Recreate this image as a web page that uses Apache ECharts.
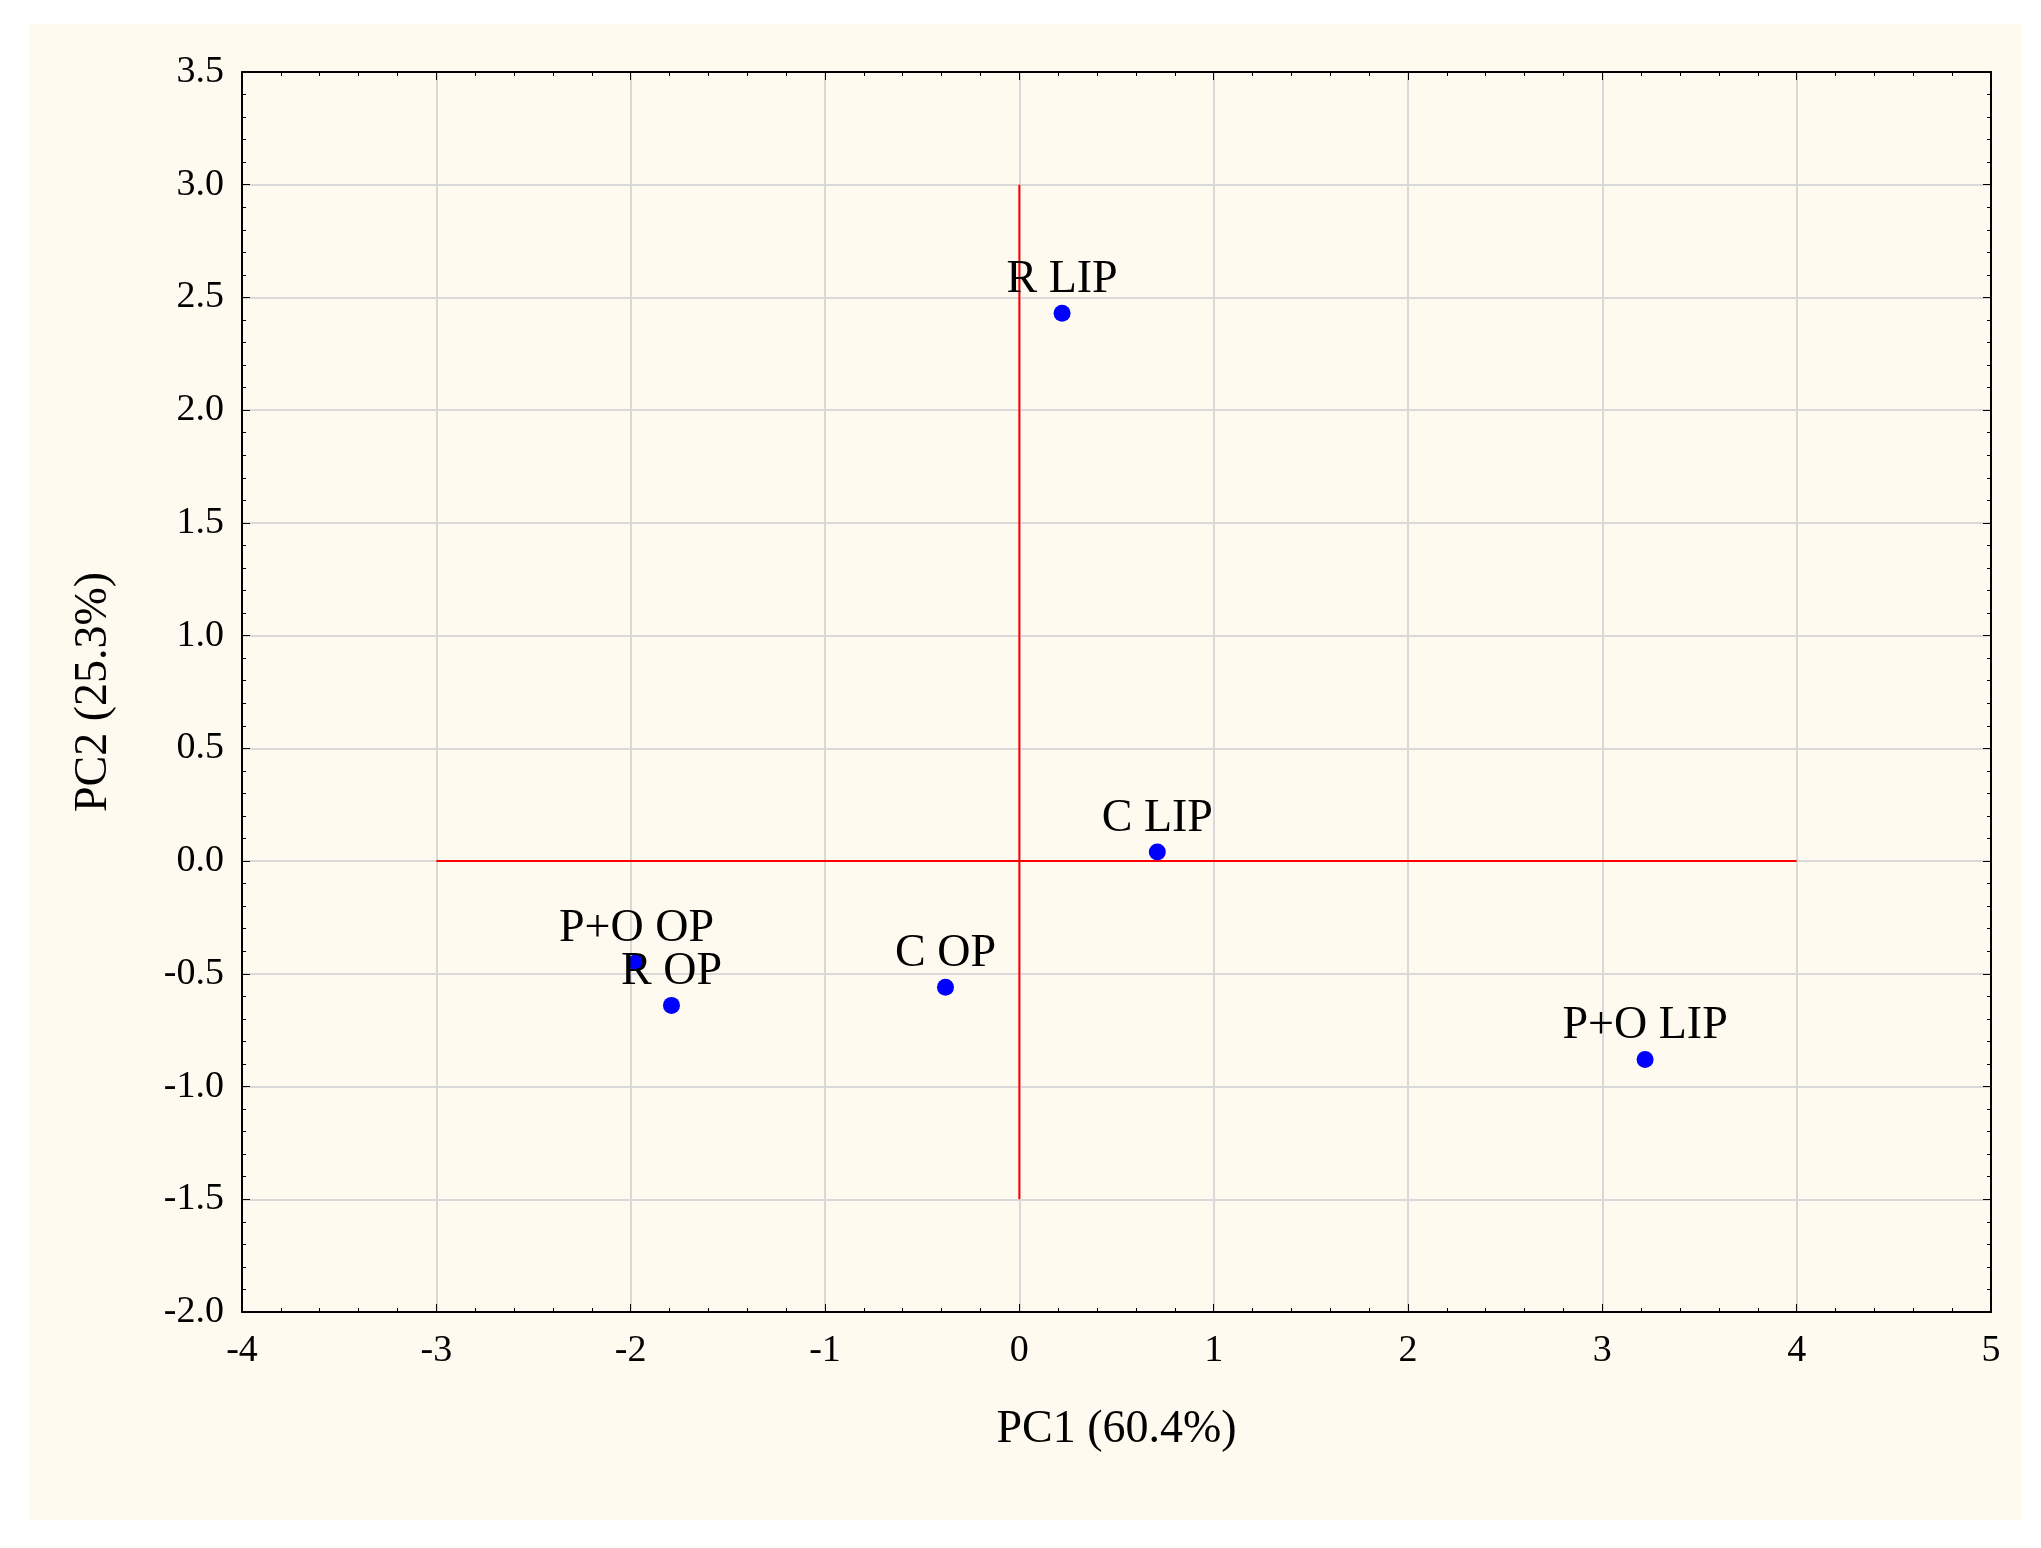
<!DOCTYPE html><html><head><meta charset="utf-8"><script src="https://cdn.jsdelivr.net/npm/echarts@6/dist/echarts.min.js"></script>
<style>html,body{margin:0;background:#fff}#c{position:absolute;left:29px;top:24px;width:1992px;height:1496px;background:#fffaf0}</style></head><body><div id="c"></div><script>
const names=['R LIP','C LIP','P+O OP','R OP','C OP','P+O LIP'];
const pc1=[0.22,0.71,-1.97,-1.79,-0.38,3.22];
const pc2=[2.43,0.04,-0.45,-0.64,-0.56,-0.88];
const xTicks=[-4,-3,-2,-1,0,1,2,3,4,5];
const yTicks=[-2.0,-1.5,-1.0,-0.5,0.0,0.5,1.0,1.5,2.0,2.5,3.0,3.5];
const font='"Liberation Serif", serif';
const ch=echarts.init(document.getElementById('c'));
const ax={axisLine:{show:true,onZero:false,lineStyle:{color:'#000',width:2}},axisTick:{show:true,inside:true,length:8,lineStyle:{color:'#000'}},minorTick:{show:true,splitNumber:5,length:4,lineStyle:{color:'#000'}},splitLine:{show:true,lineStyle:{color:'#d9d9d9',width:2}},axisLabel:{color:'#000',fontFamily:font,fontSize:38},nameTextStyle:{color:'#000',fontFamily:font,fontSize:46}};
ch.setOption({animation:false,grid:{left:213,right:30,top:48,bottom:208},
xAxis:[Object.assign({type:'value',min:-4,max:5,interval:1,name:'PC1 (60.4%)',nameLocation:'middle',nameGap:95,axisLabel:Object.assign({},ax.axisLabel,{margin:20})},{axisLine:ax.axisLine,axisTick:ax.axisTick,minorTick:ax.minorTick,splitLine:ax.splitLine,nameTextStyle:ax.nameTextStyle}),
{type:'value',position:'top',min:-4,max:5,interval:1,axisLine:ax.axisLine,axisTick:ax.axisTick,minorTick:ax.minorTick,axisLabel:{show:false},splitLine:{show:false}}],
yAxis:[Object.assign({type:'value',min:-2,max:3.5,interval:0.5,name:'PC2 (25.3%)',nameLocation:'middle',nameGap:125,axisLabel:Object.assign({},ax.axisLabel,{margin:18,formatter:v=>v.toFixed(1)})},{axisLine:ax.axisLine,axisTick:ax.axisTick,minorTick:ax.minorTick,splitLine:ax.splitLine,nameTextStyle:ax.nameTextStyle}),
{type:'value',position:'right',min:-2,max:3.5,interval:0.5,axisLine:ax.axisLine,axisTick:ax.axisTick,minorTick:ax.minorTick,axisLabel:{show:false},splitLine:{show:false}}],
series:[
{type:'line',data:[[-3,0],[4,0]],symbol:'none',lineStyle:{color:'#ff0000',width:2},silent:true},
{type:'line',data:[[0,-1.5],[0,3]],symbol:'none',lineStyle:{color:'#ff0000',width:2},silent:true},
{type:'scatter',symbolSize:17,itemStyle:{color:'#0000ff',opacity:1},data:names.map((n,i)=>[pc1[i],pc2[i],n]),
label:{show:true,position:'top',distance:2,formatter:p=>p.data[2],color:'#000',fontFamily:font,fontSize:46},z:5}
]});
</script></body></html>
